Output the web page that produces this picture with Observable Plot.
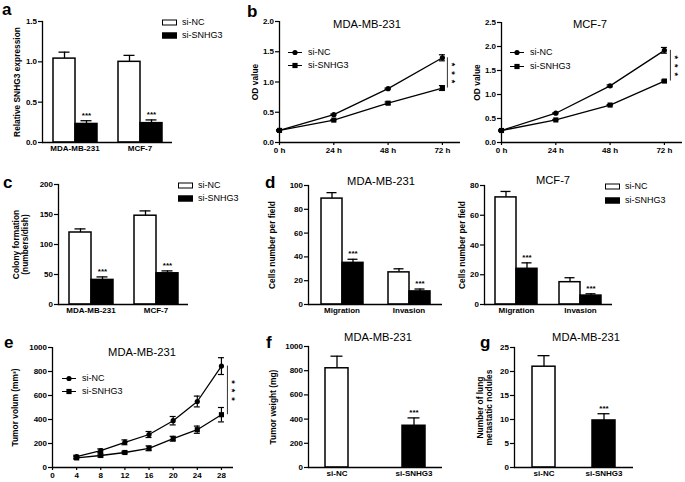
<!DOCTYPE html>
<html><head><meta charset="utf-8">
<script src="https://cdn.jsdelivr.net/npm/d3@7"></script>
<script src="https://cdn.jsdelivr.net/npm/@observablehq/plot@0.6"></script>
<style>
body{margin:0;background:#fff;}
#root{position:relative;width:685px;height:482px;overflow:hidden;background:#fff;font-family:"Liberation Sans",Arial,Helvetica,sans-serif;color:#000;}
.panel{position:absolute;}
.panel svg{overflow:visible;display:block;max-width:none;}
.letter{position:absolute;font-weight:bold;font-size:17px;line-height:1;}
.title{position:absolute;font-size:11.2px;line-height:1;white-space:nowrap;transform:translate(-50%,-50%);}
.leg{position:absolute;display:flex;align-items:center;font-size:9px;line-height:1;white-space:nowrap;transform:translateY(-50%);}
.sw{display:inline-block;width:13px;height:4px;border:1.3px solid #000;margin-right:5px;}
.leg svg{margin-right:6px;display:block;}
g[aria-label="y-axis label"] text{font-size:8.4px;}
</style>
</head><body><div id="root"></div>
<script>
// ---------- data ----------
const conditions = ["si-NC", "si-SNHG3"];
const cellLines = ["MDA-MB-231", "MCF-7"];
// a: relative SNHG3 expression
const exprNC = [1.04, 1.00], exprNCErr = [0.08, 0.08];
const exprSi = [0.23, 0.24], exprSiErr = [0.04, 0.04];
// b: OD value (CCK-8)
const hours = [0, 24, 48, 72];
const hourLabels = ["0 h", "24 h", "48 h", "72 h"];
const odMdaNC = [0.20, 0.46, 0.89, 1.40], odMdaNCErr = [0.01, 0.01, 0.01, 0.05];
const odMdaSi = [0.20, 0.37, 0.65, 0.90], odMdaSiErr = [0.01, 0.01, 0.02, 0.04];
const odMcfNC = [0.25, 0.61, 1.18, 1.92], odMcfNCErr = [0.01, 0.01, 0.02, 0.06];
const odMcfSi = [0.25, 0.47, 0.78, 1.28], odMcfSiErr = [0.01, 0.01, 0.01, 0.02];
// c: colony formation
const colonyNC = [120, 148], colonyNCErr = [6, 8];
const colonySi = [41, 52], colonySiErr = [5, 4];
// d: migration / invasion
const assays = ["Migration", "Invasion"];
const cellsMdaNC = [89, 27], cellsMdaNCErr = [5, 3];
const cellsMdaSi = [35, 11], cellsMdaSiErr = [3, 2];
const cellsMcfNC = [72, 15], cellsMcfNCErr = [4, 3];
const cellsMcfSi = [24, 6], cellsMcfSiErr = [4, 1.2];
// e: tumor volume
const days = [4, 8, 12, 16, 20, 24, 28];
const dayTicks = [0, 4, 8, 12, 16, 20, 24, 28];
const volNC = [90, 140, 210, 275, 390, 550, 845], volNCErr = [12, 15, 20, 25, 35, 45, 70];
const volSi = [80, 100, 125, 160, 240, 315, 440], volSiErr = [10, 12, 10, 20, 20, 30, 60];
// f: tumor weight
const weightMean = [820, 345], weightErr = [100, 65];
// g: lung metastatic nodules
const nodulesMean = [21, 9.8], nodulesErr = [2.3, 1.4];

// ---------- helpers ----------
const root = document.getElementById("root");
const FONT = '"Liberation Sans", Arial, Helvetica, sans-serif';
const baseStyle = {fontFamily: FONT, fontSize: "8px", fontWeight: "bold", background: "transparent", color: "#000", overflow: "visible"};
const f1 = d3.format(".1f");
const plain = d => String(d);

function box(frame, ml, mr, mt, mb) {
  const [x0, x1, y0, y1] = frame;
  return {left: x0 - ml, top: y0 - mt, width: x1 - x0 + ml + mr, height: y1 - y0 + mt + mb,
          marginLeft: ml, marginRight: mr, marginTop: mt, marginBottom: mb};
}
function place(svg, b) {
  const div = document.createElement("div");
  div.className = "panel";
  div.style.left = b.left + "px"; div.style.top = b.top + "px";
  div.style.width = b.width + "px"; div.style.height = b.height + "px";
  div.appendChild(svg); root.appendChild(div);
}
const yAxis = (ticks, fmt, label, labelOffset) => Plot.axisY(ticks, {
  tickSize: 4, tickPadding: 1.5, tickFormat: fmt, label, labelAnchor: "center",
  labelOffset, labelArrow: "none", strokeWidth: 1.2
});

function groupedBars(cfg) {
  const rows = [];
  cfg.groups.forEach((g, i) => {
    rows.push({group: g, cond: conditions[0], mean: cfg.nc[i], hi: cfg.nc[i] + cfg.ncErr[i]});
    rows.push({group: g, cond: conditions[1], mean: cfg.si[i], hi: cfg.si[i] + cfg.siErr[i]});
  });
  const nc = rows.filter(d => d.cond === conditions[0]);
  const si = rows.filter(d => d.cond === conditions[1]);
  const b = box(cfg.frame, cfg.labelOffset + 14, 6, 8, 16);
  const svg = Plot.plot({
    width: b.width, height: b.height,
    marginLeft: b.marginLeft, marginRight: b.marginRight, marginTop: b.marginTop, marginBottom: b.marginBottom,
    style: baseStyle,
    fx: {domain: cfg.groups, padding: 0},
    x: {domain: conditions, paddingInner: 0, paddingOuter: cfg.po, axis: null},
    y: {domain: cfg.yDomain},
    marks: [
      Plot.ruleX(rows, {fx: "group", x: "cond", y1: "mean", y2: "hi", stroke: "#000", strokeWidth: 1.3}),
      Plot.tickY(rows, {fx: "group", x: "cond", y: "hi", insetLeft: 5.5, insetRight: 5.5, stroke: "#000", strokeWidth: 1.3}),
      Plot.barY(nc, {fx: "group", x: "cond", y: "mean", fill: "white", stroke: "#000", strokeWidth: 1.5}),
      Plot.barY(si, {fx: "group", x: "cond", y: "mean", fill: "black", stroke: "#000", strokeWidth: 1.5}),
      Plot.text(si, {fx: "group", x: "cond", y: "hi", text: () => "***", lineAnchor: "bottom", dy: -3, fontSize: 8}),
      Plot.ruleY([cfg.yDomain[0]], {strokeWidth: 1.3}),
      Plot.frame({anchor: "left", facetAnchor: "left", strokeWidth: 1.3}),
      yAxis(cfg.yTicks, cfg.fmt, cfg.label, cfg.labelOffset),
      Plot.axisFx({anchor: "bottom", tickSize: 0, tickPadding: 3, label: null})
    ]
  });
  place(svg, b);
}

function singleBars(cfg) {
  const rows = conditions.map((c, i) => ({cond: c, mean: cfg.mean[i], hi: cfg.mean[i] + cfg.err[i]}));
  const b = box(cfg.frame, cfg.labelOffset + 14, 6, 8, 16);
  const svg = Plot.plot({
    width: b.width, height: b.height,
    marginLeft: b.marginLeft, marginRight: b.marginRight, marginTop: b.marginTop, marginBottom: b.marginBottom,
    style: baseStyle,
    x: {domain: conditions, paddingInner: cfg.pi, paddingOuter: cfg.po},
    y: {domain: cfg.yDomain},
    marks: [
      Plot.ruleX(rows, {x: "cond", y1: "mean", y2: "hi", stroke: "#000", strokeWidth: 1.3}),
      Plot.tickY(rows, {x: "cond", y: "hi", insetLeft: 5.5, insetRight: 5.5, stroke: "#000", strokeWidth: 1.3}),
      Plot.barY(rows.slice(0, 1), {x: "cond", y: "mean", fill: "white", stroke: "#000", strokeWidth: 1.5}),
      Plot.barY(rows.slice(1), {x: "cond", y: "mean", fill: "black", stroke: "#000", strokeWidth: 1.5}),
      Plot.text(rows.slice(1), {x: "cond", y: "hi", text: () => "***", lineAnchor: "bottom", dy: -3, fontSize: 8}),
      Plot.ruleY([cfg.yDomain[0]], {strokeWidth: 1.3}),
      Plot.frame({anchor: "left", strokeWidth: 1.3}),
      yAxis(cfg.yTicks, cfg.fmt, cfg.label, cfg.labelOffset),
      Plot.axisX({tickSize: 0, tickPadding: 3, label: null})
    ]
  });
  place(svg, b);
}

function linePanel(cfg) {
  const mk = (cond, mean, err) => cfg.xs.map((x, i) => ({x, cond, y: mean[i], lo: mean[i] - err[i], hi: mean[i] + err[i]}));
  const nc = mk(conditions[0], cfg.nc, cfg.ncErr), si = mk(conditions[1], cfg.si, cfg.siErr);
  const all = nc.concat(si);
  const last = cfg.xs.length - 1;
  const sig = [{x: cfg.xs[last], y1: cfg.nc[last], y2: cfg.si[last]}];
  const b = box(cfg.frame, cfg.labelOffset + 14, 6, 8, 16);
  const svg = Plot.plot({
    width: b.width, height: b.height,
    marginLeft: b.marginLeft, marginRight: b.marginRight, marginTop: b.marginTop, marginBottom: b.marginBottom,
    style: baseStyle,
    x: {domain: cfg.xDomain},
    y: {domain: cfg.yDomain},
    marks: [
      Plot.ruleX(all, {x: "x", y1: "lo", y2: "hi", strokeWidth: 1.2}),
      Plot.ruleY(all, {x1: "x", x2: "x", y: "hi", insetLeft: -3, insetRight: -3, strokeWidth: 1.2}),
      Plot.ruleY(all, {x1: "x", x2: "x", y: "lo", insetLeft: -3, insetRight: -3, strokeWidth: 1.2}),
      Plot.line(all, {x: "x", y: "y", z: "cond", stroke: "#000", strokeWidth: 1.3}),
      Plot.dot(nc, {x: "x", y: "y", r: 2.6, fill: "#000", symbol: "circle"}),
      Plot.dot(si, {x: "x", y: "y", r: 2.9, fill: "#000", symbol: "square"}),
      Plot.ruleX(sig, {x: "x", y1: "y1", y2: "y2", dx: cfg.sigDx, stroke: "#333", strokeWidth: 1}),
      Plot.text(sig, {x: "x", y: d => (d.y1 + d.y2) / 2, text: () => "*  *  *", rotate: 90, dx: cfg.sigDx + 4, fontSize: 9}),
      Plot.ruleY([cfg.yDomain[0]], {strokeWidth: 1.3}),
      Plot.ruleX([cfg.xDomain[0]], {strokeWidth: 1.3}),
      yAxis(cfg.yTicks, cfg.fmt, cfg.label, cfg.labelOffset),
      Plot.axisX(cfg.xTicks, {tickSize: 3, tickPadding: 1.5, tickFormat: cfg.xFmt, label: null, strokeWidth: 1.2})
    ]
  });
  place(svg, b);
}

// ---------- panels ----------
groupedBars({frame: [41, 172, 21, 142], groups: cellLines, nc: exprNC, ncErr: exprNCErr, si: exprSi, siErr: exprSiErr,
  yDomain: [0, 1.5], yTicks: [0, 0.5, 1, 1.5], fmt: f1, label: "Relative SNHG3 expression", labelOffset: 28, po: 0.456});

linePanel({frame: [279, 460, 21, 142], xs: hours, xDomain: [0, 80], xTicks: hours, xFmt: (d, i) => hourLabels[i],
  nc: odMdaNC, ncErr: odMdaNCErr, si: odMdaSi, siErr: odMdaSiErr, yDomain: [0, 2], yTicks: [0, 0.5, 1, 1.5, 2], fmt: f1,
  label: "OD value", labelOffset: 27, sigDx: 5});

linePanel({frame: [501, 682, 22, 142], xs: hours, xDomain: [0, 80], xTicks: hours, xFmt: (d, i) => hourLabels[i],
  nc: odMcfNC, ncErr: odMcfNCErr, si: odMcfSi, siErr: odMcfSiErr, yDomain: [0, 2.5], yTicks: [0, 0.5, 1, 1.5, 2, 2.5], fmt: f1,
  label: "OD value", labelOffset: 27, sigDx: 6});

groupedBars({frame: [58, 188, 184, 304], groups: cellLines, nc: colonyNC, ncErr: colonyNCErr, si: colonySi, siErr: colonySiErr,
  yDomain: [0, 200], yTicks: [0, 50, 100, 150, 200], fmt: plain, label: "Colony formation\n(numbers/dish)", labelOffset: 45, po: 0.444});

groupedBars({frame: [307, 442, 185, 304], groups: assays, nc: cellsMdaNC, ncErr: cellsMdaNCErr, si: cellsMdaSi, siErr: cellsMdaSiErr,
  yDomain: [0, 100], yTicks: [0, 20, 40, 60, 80, 100], fmt: plain, label: "Cells number per field", labelOffset: 39, po: 0.57});

groupedBars({frame: [484, 612, 185, 304], groups: assays, nc: cellsMcfNC, ncErr: cellsMcfNCErr, si: cellsMcfSi, siErr: cellsMcfSiErr,
  yDomain: [0, 80], yTicks: [0, 20, 40, 60, 80], fmt: plain, label: "Cells number per field", labelOffset: 25, po: 0.488});

linePanel({frame: [52, 233, 347, 467], xs: days, xDomain: [0, 30], xTicks: dayTicks, xFmt: plain,
  nc: volNC, ncErr: volNCErr, si: volSi, siErr: volSiErr, yDomain: [0, 1000], yTicks: [0, 200, 400, 600, 800, 1000], fmt: plain,
  label: "Tumor volum (mm³)", labelOffset: 40, sigDx: 6});

singleBars({frame: [308, 442, 346, 467], mean: weightMean, err: weightErr, yDomain: [0, 1000], yTicks: [0, 200, 400, 600, 800, 1000],
  fmt: plain, label: "Tumor weight (mg)", labelOffset: 38, pi: 0.70, po: 0.22});

singleBars({frame: [514, 633, 347, 467], mean: nodulesMean, err: nodulesErr, yDomain: [0, 25], yTicks: [0, 5, 10, 15, 20, 25],
  fmt: plain, label: "Number of lung\nmetastatic nodules", labelOffset: 37, pi: 0.617, po: 0.3});

// ---------- text overlays ----------
const letters = [["a", 2, 15], ["b", 247, 17], ["c", 3, 188], ["d", 265, 188], ["e", 4, 348], ["f", 266, 348], ["g", 480, 348]];
letters.forEach(([t, x, base]) => {
  const d = document.createElement("div"); d.className = "letter"; d.textContent = t;
  d.style.left = x + "px"; d.style.top = (base - 0.85 * 17) + "px"; root.appendChild(d);
});
const titles = [["MDA-MB-231", 367, 25], ["MCF-7", 590, 25], ["MDA-MB-231", 381, 182], ["MCF-7", 553, 181],
                ["MDA-MB-231", 142, 353], ["MDA-MB-231", 378, 338], ["MDA-MB-231", 586, 338]];
titles.forEach(([t, x, y]) => {
  const d = document.createElement("div"); d.className = "title"; d.textContent = t;
  d.style.left = x + "px"; d.style.top = y + "px"; root.appendChild(d);
});
function barLegend(x, y1, y2) {
  [[conditions[0], "#fff", y1], [conditions[1], "#000", y2]].forEach(([t, c, y]) => {
    const d = document.createElement("div"); d.className = "leg";
    d.style.left = x + "px"; d.style.top = y + "px";
    d.innerHTML = `<span class="sw" style="background:${c}"></span><span>${t}</span>`;
    root.appendChild(d);
  });
}
function lineLegend(x, y1, y2) {
  const marks = ['<circle cx="7" cy="4" r="2.6" fill="#000"/>', '<rect x="4.4" y="1.4" width="5.2" height="5.2" fill="#000"/>'];
  [[conditions[0], marks[0], y1], [conditions[1], marks[1], y2]].forEach(([t, m, y]) => {
    const d = document.createElement("div"); d.className = "leg";
    d.style.left = x + "px"; d.style.top = y + "px";
    d.innerHTML = `<svg width="14" height="8"><line x1="0" x2="14" y1="4" y2="4" stroke="#000" stroke-width="1.2"/>${m}</svg><span>${t}</span>`;
    root.appendChild(d);
  });
}
barLegend(162, 22, 35);
barLegend(178, 185, 198);
barLegend(605, 186, 200);
lineLegend(288, 52, 65);
lineLegend(510, 52, 66);
lineLegend(62, 378, 391);
</script>
</body></html>
